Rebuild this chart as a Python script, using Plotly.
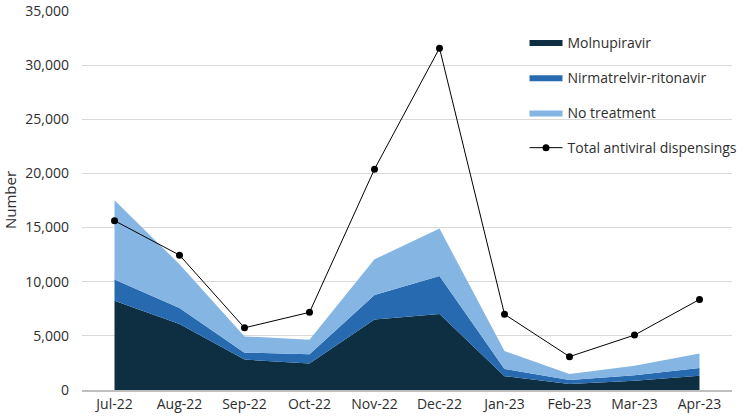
import plotly.graph_objects as go

months = ["Jul-22", "Aug-22", "Sep-22", "Oct-22", "Nov-22", "Dec-22",
          "Jan-23", "Feb-23", "Mar-23", "Apr-23"]
molnupiravir = [8240, 6100, 2810, 2440, 6500, 7020, 1280, 550, 850, 1310]
nirmatrelvir = [1950, 1470, 640, 860, 2260, 3510, 670, 370, 520, 730]
no_treatment = [7330, 4030, 1500, 1340, 3300, 4370, 1650, 550, 860, 1320]
total_dispensings = [15630, 12450, 5740, 7170, 20390, 31560, 6990, 3080, 5070, 8360]
y_ticks = [0, 5000, 10000, 15000, 20000, 25000, 30000, 35000]

FONT = "Open Sans"
TXT = "#2E2E2E"
fig = go.Figure()

area_series = [
    ("Molnupiravir", molnupiravir, "#0D2F41"),
    ("Nirmatrelvir-ritonavir", nirmatrelvir, "#276AB0"),
    ("No treatment", no_treatment, "#85B5E3"),
]
for name, vals, col in area_series:
    fig.add_trace(go.Scatter(
        x=months, y=vals, name=name, mode="lines",
        stackgroup="one", fillcolor=col,
        line=dict(width=0, color=col),
        legendgroup=name,
    ))

fig.add_trace(go.Scatter(
    x=months, y=total_dispensings, name="Total antiviral dispensings",
    mode="lines+markers",
    line=dict(color="#000000", width=1),
    marker=dict(color="#000000", size=7),
    legendgroup="total",
))

fig.update_layout(
    width=744, height=420,
    margin=dict(l=82, r=12, t=10, b=30, autoexpand=False),
    paper_bgcolor="white", plot_bgcolor="white",
    font=dict(family=FONT, size=14, color=TXT),
    showlegend=True,
    legend=dict(
        xref="container", yref="container",
        x=0.705, y=0.937, xanchor="left", yanchor="top",
        bgcolor="rgba(0,0,0,0)", traceorder="grouped",
        tracegroupgap=14, itemwidth=33,
        font=dict(family=FONT, size=14, color=TXT),
    ),
    xaxis=dict(
        type="category", range=[-0.5, 9.5],
        showgrid=False, showline=True, linecolor="#BFBFBF", linewidth=1.5,
        ticks="", tickfont=dict(size=14, color=TXT),
    ),
    yaxis=dict(
        range=[0, 35080], tickvals=y_ticks, tickformat=",",
        showgrid=True, gridcolor="#D9D9D9", gridwidth=1,
        zeroline=False, showline=False, ticks="",
        ticklabelstandoff=12, ticklabeloverflow="allow",
        tickfont=dict(size=14, color=TXT),
        title=dict(text="Number", font=dict(size=15, color=TXT), standoff=8),
    ),
)

fig.write_html("out.html")
